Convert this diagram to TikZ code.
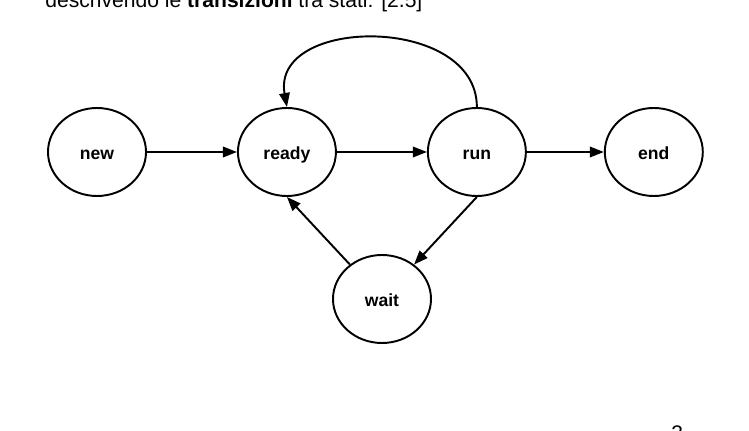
\documentclass[tikz,border=0pt]{standalone}
\usepackage{fontspec}
\setmainfont{Liberation Sans}
\usepackage{tikz}
\usetikzlibrary{positioning, arrows.meta, shapes.geometric}

\begin{document}
\begin{tikzpicture}[
  state/.style={draw, ellipse, line width=1.1pt, minimum width=1.96cm,
    minimum height=1.76cm, inner sep=0pt, text height=9pt, text depth=0pt,
    font=\bfseries\fontsize{10}{12}\selectfont},
  trans/.style={line width=1.1pt, -{Triangle[length=8pt, width=6pt]}}]
\useasboundingbox (0,0) rectangle (14.98,8.6);
\clip (0,0) rectangle (14.98,8.6);
\node[anchor=base west, inner sep=0pt, font=\fontsize{12}{14}\selectfont]
  (caption) at (0.9,8.44) {descrivendo le \textbf{transizioni} tra stati: [2.5]};
\node[state] (new) at (1.94,5.56) {new};
\node[state, right=1.8cm of new] (ready) {ready};
\node[state, right=1.8cm of ready] (run) {run};
\node[state, right=1.54cm of run] (end) {end};
\node[state] (wait) at (7.64,2.62) {wait};
\draw[trans] (new) -- (ready);
\draw[trans] (ready) -- (run);
\draw[trans] (run) -- (end);
\draw[trans] (run.north) to[out=90, in=100, looseness=1.25] (ready.north);
\draw[trans] (run.south) -- (wait);
\draw[trans] (wait) -- (ready.south);
\node[anchor=base west, inner sep=0pt, font=\fontsize{12}{14}\selectfont]
  (pagenum) at (13.42,-0.2) {3};
\end{tikzpicture}
\end{document}
